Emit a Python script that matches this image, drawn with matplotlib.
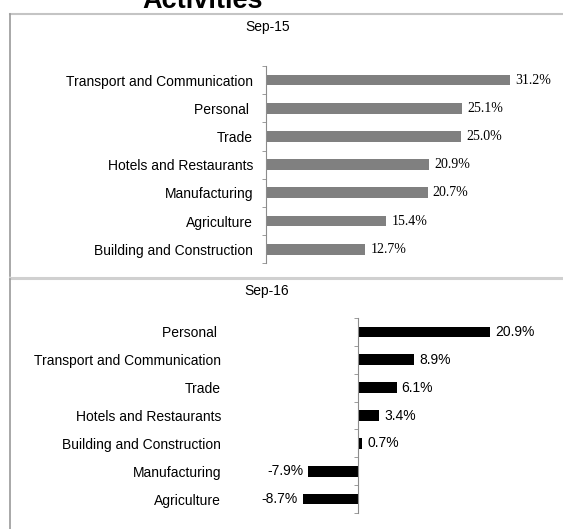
import numpy as np
import matplotlib
matplotlib.use('Agg')
import matplotlib.pyplot as plt
from matplotlib.lines import Line2D

plt.rcParams['font.family'] = ['Liberation Sans', 'DejaVu Sans']

# Sep-15 panel (top to bottom)
cats_15 = ['Transport and Communication', 'Personal ', 'Trade', 'Hotels and Restaurants',
           'Manufacturing', 'Agriculture', 'Building and Construction']
vals_15 = [31.2, 25.1, 25.0, 20.9, 20.7, 15.4, 12.7]

# Sep-16 panel (top to bottom)
cats_16 = ['Personal ', 'Transport and Communication', 'Trade', 'Hotels and Restaurants',
           'Building and Construction', 'Manufacturing', 'Agriculture']
vals_16 = [20.9, 8.9, 6.1, 3.4, 0.7, -7.9, -8.7]

W, H = 563, 529
fig = plt.figure(figsize=(W / 100, H / 100), dpi=100)

def fx(px):
    return px / W

def fy(py):
    return 1 - py / H

spine_col = '#8c8c8c'


def panel(ax, cats, vals, color, pad_px, serif_vals):
    n = len(cats)
    y = np.arange(n)
    ax.barh(y, vals, height=0.38, color=color)
    ax.set_ylim(n - 0.5, -0.5)
    for s in ['top', 'right', 'bottom']:
        ax.spines[s].set_visible(False)
    ax.spines['left'].set_position(('data', 0))
    ax.spines['left'].set_color(spine_col)
    ax.set_xticks([])
    ax.set_yticks(y)
    ax.set_yticklabels(cats, fontsize=10)
    ax.tick_params(axis='y', which='major', length=0, pad=pad_px * 0.72)
    ax.set_yticks(np.arange(-0.5, n, 1), minor=True)
    ax.tick_params(axis='y', which='minor', length=3, color=spine_col, direction='out')
    ax.patch.set_alpha(0)
    fam = ['Liberation Serif', 'DejaVu Serif'] if serif_vals else ['Liberation Sans', 'DejaVu Sans']
    for yi, v in zip(y, vals):
        if v >= 0:
            ax.annotate(f'{v:.1f}%', (v, yi), xytext=(3.6, 0), textcoords='offset points',
                        ha='left', va='center', fontsize=10, family=fam)
        else:
            ax.annotate(f'{v:.1f}%', (v, yi), xytext=(-3.6, 0), textcoords='offset points',
                        ha='right', va='center', fontsize=10, family=fam)


# top panel axes: spine at x=266, y 66..263
ax1 = fig.add_axes([fx(266), fy(263.3), fx(281.5), (263.3 - 66) / H])
ax1.set_xlim(0, 36)
panel(ax1, cats_15, vals_15, '#808080', 13, True)

# bottom panel axes: spine at x=358, y 318..513
ax2 = fig.add_axes([fx(294.8), fy(513), fx(221.2), (513 - 318) / H])
ax2.set_xlim(-10, 25)
panel(ax2, cats_16, vals_16, '#000000', 137, False)

# panel titles
fig.text(fx(268), fy(27), 'Sep-15', ha='center', va='center', fontsize=10)
fig.text(fx(267), fy(291), 'Sep-16', ha='center', va='center', fontsize=10)

# clipped main title
fig.text(fx(203), fy(8.5), 'Activities', ha='center', va='baseline',
         fontsize=19.5, fontweight='bold')

# panel frames
fig.add_artist(Line2D([fx(10), 1], [fy(14), fy(14)], color='#c4c4c4', lw=1.5))
fig.add_artist(Line2D([fx(10.3), fx(10.3)], [fy(14), fy(276)], color='#9a9a9a', lw=1.2))
fig.add_artist(Line2D([fx(10), 1], [fy(277.5), fy(277.5)], color='#d0d0d0', lw=2.2))
fig.add_artist(Line2D([fx(10.3), fx(10.3)], [fy(279), 0], color='#9a9a9a', lw=1.2))

fig.savefig('out.png', dpi=100)
